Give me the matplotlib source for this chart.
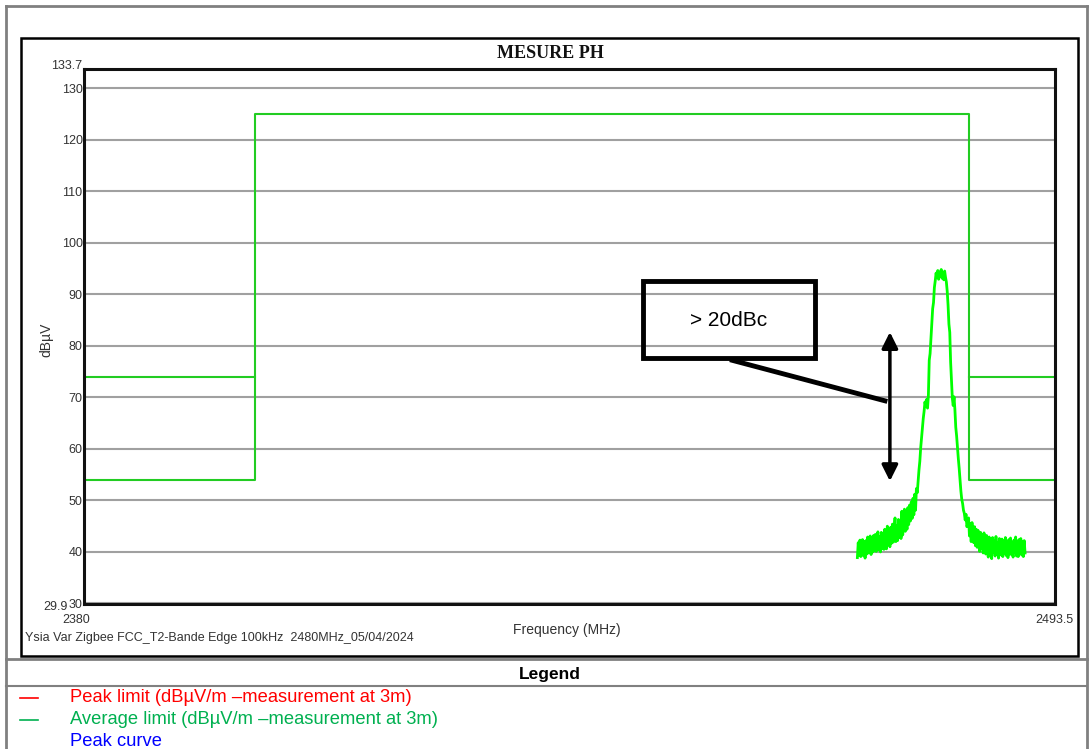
import numpy as np
import matplotlib.pyplot as plt
from matplotlib.patches import Rectangle

plt.rcParams['font.family'] = ['Liberation Sans', 'DejaVu Sans']

# band edge limits (MHz, dBuV)
f_start = 2380
f_stop = 2493.5
band_low = 2400
band_high = 2483.5
limit_avg = 54
limit_peak = 74
limit_inband = 125
y_min = 29.9
y_max = 133.7
y_ticks = [30, 40, 50, 60, 70, 80, 90, 100, 110, 120, 130]

# measured sweep, 0.1 MHz steps from 2470.4 to 2490.0 MHz
sweep_start = 2470.4
sweep_step = 0.1
level = [
    38.9, 41.8, 39.4, 42.3, 39.1, 41.6, 42.4, 39.3, 42.0, 38.8,
    42.2, 39.6, 42.9, 39.8, 41.7, 43.1, 39.5, 42.6, 40.0, 43.2,
    40.2, 43.4, 40.1, 42.5, 43.9, 40.4, 43.0, 40.0, 43.8, 40.7,
    43.3, 40.5, 44.4, 41.1, 40.6, 45.0, 41.4, 44.2, 41.0, 44.8,
    41.7, 45.4, 41.9, 44.5, 46.6, 42.0, 45.1, 42.2, 46.3, 42.8,
    45.7, 42.6, 47.9, 43.3, 46.2, 48.3, 44.0, 47.2, 44.4, 48.6,
    45.3, 49.1, 46.0, 49.7, 46.5, 50.4, 47.2, 51.2, 48.1, 52.3,
    51.5, 53.8, 55.9, 57.6, 60.2, 62.1, 63.8, 65.9, 67.3, 69.1,
    68.2, 69.6, 67.9, 70.4, 77.2, 78.5, 81.3, 83.9, 87.2, 88.4,
    91.3, 92.6, 94.1, 93.2, 94.6, 92.9, 94.3, 93.5, 94.8, 93.1,
    94.0, 92.8, 94.5, 93.3, 92.4, 90.6, 87.9, 84.2, 82.6, 76.8,
    73.5, 69.8, 68.4, 70.1, 67.6, 64.2, 62.5, 60.3, 58.1, 56.2,
    53.9, 51.8, 50.2, 49.4, 48.1, 47.5, 46.2, 47.3, 44.9, 45.4,
    46.6, 43.1, 45.5, 42.0, 45.7, 42.4, 41.8, 44.9, 41.2, 44.4,
    40.9, 44.2, 41.4, 40.1, 43.8, 40.7, 43.4, 39.8, 43.7, 40.5,
    39.6, 43.2, 40.3, 39.0, 42.9, 39.9, 42.4, 38.7, 42.8, 40.0,
    42.2, 39.2, 43.0, 39.7, 41.8, 38.8, 42.6, 40.1, 39.4, 42.5,
    39.1, 42.1, 39.8, 42.8, 39.3, 41.9, 38.9, 42.4, 39.6, 42.7,
    39.5, 41.8, 39.0, 42.3, 39.9, 42.9, 39.2, 42.1, 39.1, 42.4,
    39.7, 42.6, 39.4, 42.0, 39.1, 42.2, 39.8,
]
freq = sweep_start + sweep_step * np.arange(len(level))

W, H = 1089, 749
fig = plt.figure(figsize=(W / 100, H / 100), dpi=100)

# page layer in pixel coordinates
bg = fig.add_axes([0, 0, 1, 1])
bg.set_xlim(0, W)
bg.set_ylim(H, 0)
bg.axis('off')

gray = '#808080'
bg.plot([6, 6], [6, H], color=gray, lw=2)
bg.plot([6, 1087], [6, 6], color=gray, lw=2)
bg.plot([1087, 1087], [6, H], color=gray, lw=2)
bg.plot([6, 1087], [659, 659], color=gray, lw=2)
bg.plot([6, 1087], [686, 686], color=gray, lw=1.5)
bg.add_patch(Rectangle((21, 38), 1057, 618, fill=False, ec='black', lw=1.8))

txt_col = '#333333'
bg.text(550, 54, 'MESURE PH', family='Liberation Serif', weight='bold',
        fontsize=13, ha='center', va='center', color='#111111')
bg.text(82, 66, '133.7', fontsize=9, ha='right', va='center', color=txt_col)
bg.text(68, 607, '29.9', fontsize=9, ha='right', va='center', color=txt_col)
bg.text(76, 620, '2380', fontsize=9, ha='center', va='center', color=txt_col)
bg.text(1054, 620, '2493.5', fontsize=9, ha='center', va='center', color=txt_col)
bg.text(46, 340, 'dBµV', fontsize=10, rotation=90, ha='center', va='center', color=txt_col)
bg.text(567, 630, 'Frequency (MHz)', fontsize=10, ha='center', va='center', color=txt_col)
bg.text(25, 638, 'Ysia Var Zigbee FCC_T2-Bande Edge 100kHz  2480MHz_05/04/2024',
        fontsize=9, ha='left', va='center', color=txt_col)

bg.text(550, 674, 'Legend', fontsize=12.5, weight='bold', ha='center', va='center')
legend_rows = [
    ('Peak limit (dBµV/m –measurement at 3m)', '#ff0000', True),
    ('Average limit (dBµV/m –measurement at 3m)', '#00b050', True),
    ('Peak curve', '#0000ff', False),
]
for i, (label, col, dash) in enumerate(legend_rows):
    yy = 697 + 22 * i
    if dash:
        bg.plot([20, 38], [yy + 1, yy + 1], color=col, lw=1.2)
    bg.text(70, yy, label, fontsize=13.2, color=col, ha='left', va='center')

# chart
ax = fig.add_axes([84 / W, (H - 604) / H, 971 / W, 535 / H])
ax.set_xlim(f_start, f_stop)
ax.set_ylim(y_min, y_max)
ax.set_yticks(y_ticks)
ax.set_yticklabels([str(t) for t in y_ticks], fontsize=9, color=txt_col)
ax.set_xticks([])
ax.tick_params(axis='y', length=0, pad=1)
ax.grid(axis='y', color='#a0a0a0', lw=1.5)
ax.set_axisbelow(True)
for s in ax.spines.values():
    s.set_linewidth(2.2)
    s.set_color('#111111')

lim_col = '#22cc22'
ax.plot([f_start, band_low, band_low, band_high, band_high, f_stop],
        [limit_avg, limit_avg, limit_inband, limit_inband, limit_avg, limit_avg],
        color=lim_col, lw=1.5)
ax.plot([f_start, band_low], [limit_peak, limit_peak], color=lim_col, lw=1.5)
ax.plot([band_high, f_stop], [limit_peak, limit_peak], color=lim_col, lw=1.5)

ax.plot(freq, level, color='#00ff00', lw=2.0)

# delta annotation
ax.add_patch(Rectangle((2445.3, 77.7), 20.1, 14.9, fill=False, ec='black', lw=3.5, zorder=5))
ax.text(2455.4, 85.0, '> 20dBc', fontsize=15, ha='center', va='center', zorder=5)
ax.plot([2455.5, 2473.9], [77.3, 69.2], color='black', lw=3.5, solid_capstyle='butt', zorder=5)
ax.annotate('', xy=(2474.2, 83.2), xytext=(2474.2, 53.2),
            arrowprops=dict(arrowstyle='<|-|>', color='black', lw=2.5,
                            mutation_scale=24), zorder=5)

fig.savefig('out.png', dpi=100)
